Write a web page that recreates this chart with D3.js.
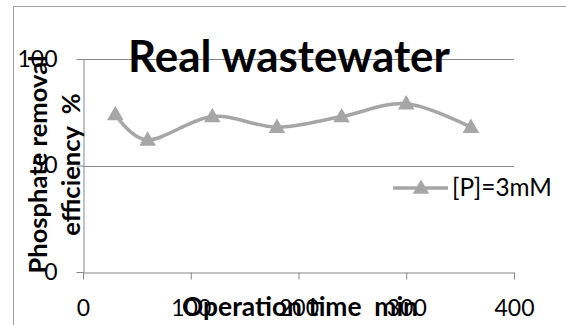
<!DOCTYPE html>
<html>
<head>
<meta charset="utf-8">
<script src="https://cdn.jsdelivr.net/npm/d3@7"></script>
<style>
    body { margin: 0; background: #fff; }
    svg { display: block; }
    text { font-family: Lato, "Open Sans", sans-serif; fill: #000; }
</style>
</head>
<body>
<div id="chart"></div>
<script>
// data
const times = [30, 60, 120, 180, 240, 300, 360];
const removal = [74, 62, 73, 68, 73, 79, 68];
const xTicks = [0, 100, 200, 300, 400];
const yTicks = [0, 50, 100];
const seriesName = "[P]=3mM";

const width = 566;
const height = 325;
const margin = { top: 59, right: 52, bottom: 53, left: 83 };
const gridColor = "#868686";
const seriesColor = "#a6a6a6";

const svg = d3.select("#chart")
    .append("svg")
    .attr("width", width)
    .attr("height", height);

// scale a text's font so it spans the width seen in the reference
function fitWidth(sel, target) {
    const base = 20;
    sel.style("font-size", base + "px");
    const w = sel.node().getComputedTextLength();
    sel.style("font-size", (base * target / w).toFixed(2) + "px");
    return sel;
}

// chart border (only top and left visible in the picture)
svg.append("path")
    .attr("d", `M13.5,${height + 2}V6.5H${width + 2}`)
    .attr("fill", "none")
    .attr("stroke", "#a0a0a0")
    .attr("stroke-width", 1);

const x = d3.scaleLinear()
    .domain([0, 400])
    .range([margin.left, width - margin.right]);

const y = d3.scaleLinear()
    .domain([0, 100])
    .range([height - margin.bottom, margin.top]);

// gridlines
svg.append("g")
    .selectAll("line")
    .data(yTicks.filter(d => d > 0))
    .enter()
    .append("line")
    .attr("x1", x(0))
    .attr("x2", x(400))
    .attr("y1", d => Math.round(y(d)) + 0.5)
    .attr("y2", d => Math.round(y(d)) + 0.5)
    .attr("stroke", gridColor);

// axes
const xAxis = svg.append("g")
    .attr("transform", `translate(0,${Math.round(y(0)) + 0.5})`)
    .call(d3.axisBottom(x).tickValues(xTicks).tickSizeInner(7).tickSizeOuter(0).tickPadding(0));

const yAxis = svg.append("g")
    .attr("transform", `translate(${Math.round(x(0)) + 0.5},0)`)
    .call(d3.axisLeft(y).tickValues(yTicks).tickSizeInner(7).tickSizeOuter(0).tickPadding(19));

[xAxis, yAxis].forEach(a => {
    a.selectAll("path, line").attr("stroke", gridColor);
    a.selectAll("text")
        .style("font-size", "23px")
        .attr("fill", "#000");
});
// x tick labels sit on the same baseline as the axis title
xAxis.selectAll("text").attr("dy", null).attr("y", 316 - Math.round(y(0)) - 0.5);

// series line, smoothed like the spreadsheet
const line = d3.line()
    .x((d, i) => x(times[i]))
    .y(d => y(d))
    .curve(d3.curveCatmullRom.alpha(0));

svg.append("path")
    .datum(removal)
    .attr("d", line)
    .attr("fill", "none")
    .attr("stroke", seriesColor)
    .attr("stroke-width", 3.5);

const tri = d3.symbol(d3.symbolTriangle, 120);

svg.append("g")
    .selectAll("path")
    .data(removal)
    .enter()
    .append("path")
    .attr("d", tri)
    .attr("transform", (d, i) => `translate(${x(times[i])},${y(d) + 1})`)
    .attr("fill", seriesColor);

// title
const title = svg.append("text")
    .attr("x", 289)
    .attr("y", 72)
    .attr("text-anchor", "middle")
    .style("font-weight", "bold")
    .text("Real wastewater");
fitWidth(title, 322);

// axis titles
const xTitle = svg.append("text")
    .attr("x", 300)
    .attr("y", 316)
    .attr("text-anchor", "middle")
    .style("font-weight", "bold")
    .style("white-space", "pre")
    .text("Operation time  min");
fitWidth(xTitle, 236);

const yTitle = svg.append("g")
    .attr("transform", `translate(0,${(y(0) + y(100)) / 2 - 1}) rotate(-90)`);

const yLine1 = yTitle.append("text")
    .attr("x", 0).attr("y", 47)
    .attr("text-anchor", "middle")
    .style("font-weight", "bold")
    .text("Phosphate removal");
fitWidth(yLine1, 218);

const yLine2 = yTitle.append("text")
    .attr("x", 0).attr("y", 80)
    .attr("text-anchor", "middle")
    .style("font-weight", "bold")
    .style("white-space", "pre")
    .text("efficiency  %");
yLine2.style("font-size", yLine1.style("font-size"));

// legend
const legend = svg.append("g").attr("transform", "translate(393,188)");
legend.append("line")
    .attr("x1", 0).attr("x2", 55)
    .attr("stroke", seriesColor)
    .attr("stroke-width", 3.5);
legend.append("path")
    .attr("d", tri)
    .attr("transform", "translate(28,1)")
    .attr("fill", seriesColor);
const legendText = legend.append("text")
    .attr("x", 59)
    .attr("y", 8)
    .text(seriesName);
fitWidth(legendText, 100);
</script>
</body>
</html>
